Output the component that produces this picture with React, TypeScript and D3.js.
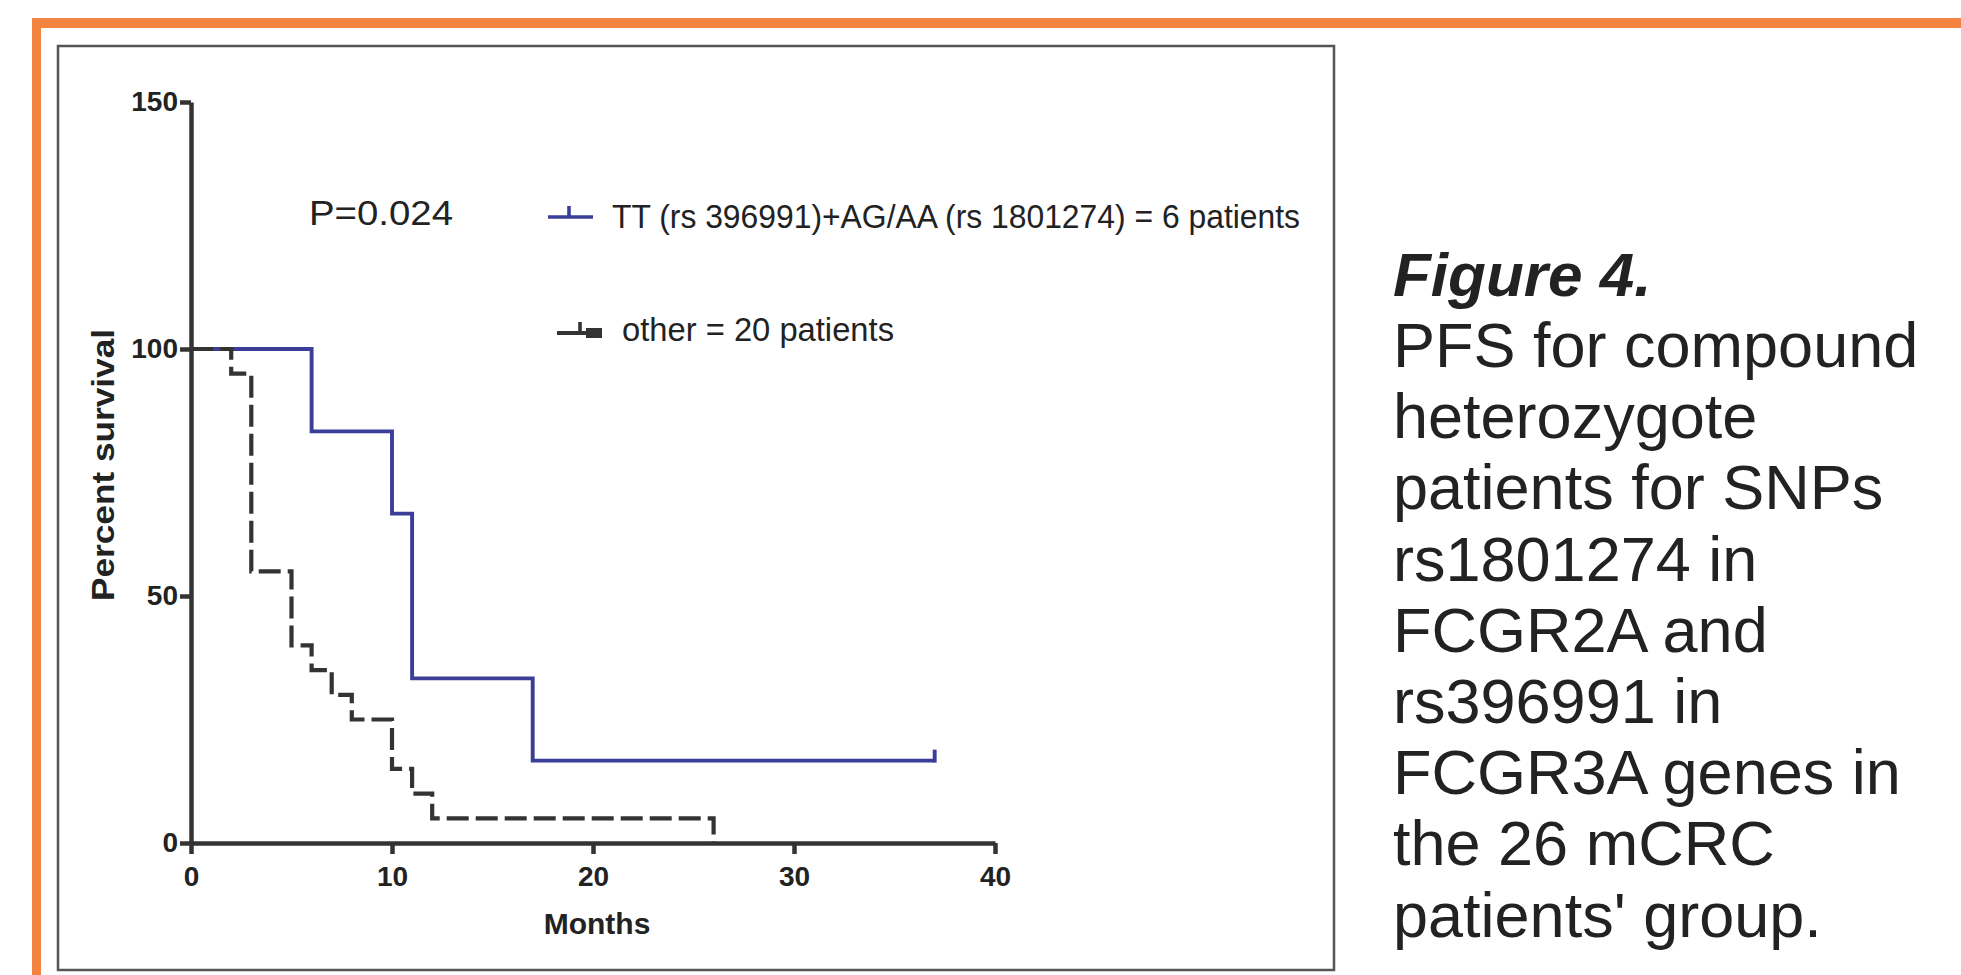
import React, { useEffect, useRef } from "react";
import * as d3 from "d3";

// Kaplan-Meier steps (months, percent survival)
const blueMonths = [0, 6, 10, 11, 17, 37];
const blueSurvival = [100, 83.33, 66.67, 33.33, 16.67, 16.67];
const otherMonths = [0, 2, 3, 5, 6, 7, 8, 10, 11, 12, 26];
const otherSurvival = [100, 95, 55, 40, 35, 30, 25, 15, 10, 5, 0];
const blueCensored = [37];

const xTicks = [0, 10, 20, 30, 40];
const yTicks = [0, 50, 100, 150];

const legendLabels = ["TT (rs 396991)+AG/AA (rs 1801274) = 6 patients", "other = 20 patients"];
const pValue = "P=0.024";
const captionTitle = "Figure 4.";
const captionLines = [
    "PFS for compound",
    "heterozygote",
    "patients for SNPs",
    "rs1801274 in",
    "FCGR2A and",
    "rs396991 in",
    "FCGR3A genes in",
    "the 26 mCRC",
    "patients' group.",
];

const BLUE = "#3a3e99";
const DARK = "#333333";

export default function App() {
    const ref = useRef<SVGSVGElement>(null);

    useEffect(() => {
        const svg = d3.select(ref.current);
        svg.selectAll("*").remove();

        // orange page frame + figure box
        svg.append("rect").attr("x", 32).attr("y", 18).attr("width", 1940).attr("height", 10).attr("fill", "#f2843f");
        svg.append("rect").attr("x", 32).attr("y", 18).attr("width", 9).attr("height", 970).attr("fill", "#f2843f");
        svg.append("rect").attr("x", 58).attr("y", 46).attr("width", 1276).attr("height", 924)
            .attr("fill", "none").attr("stroke", "#555").attr("stroke-width", 2.5);

        const x = d3.scaleLinear().domain([0, 40]).range([191, 995]);
        const y = d3.scaleLinear().domain([0, 150]).range([843, 102]);

        const font = "'Liberation Sans', Arial, sans-serif";

        // axes
        const xAxis = svg.append("g").attr("transform", `translate(0, ${y(0)})`)
            .call(d3.axisBottom(x).tickValues(xTicks).tickSize(11).tickSizeOuter(0).tickPadding(12));
        const yAxis = svg.append("g").attr("transform", `translate(${x(0)}, 0)`)
            .call(d3.axisLeft(y).tickValues(yTicks).tickSize(11).tickSizeOuter(0).tickPadding(2));
        [xAxis, yAxis].forEach(ax => {
            ax.select(".domain").attr("stroke", DARK).attr("stroke-width", 4.5);
            ax.selectAll(".tick line").attr("stroke", DARK).attr("stroke-width", 4.5);
            ax.selectAll(".tick text").attr("fill", "#222").style("font-family", font)
                .style("font-size", "28px").style("font-weight", "bold");
        });

        // axis titles
        svg.append("text").attr("x", 597).attr("y", 934).attr("text-anchor", "middle")
            .style("font-family", font).style("font-size", "30px").style("font-weight", "bold").attr("fill", "#222")
            .text("Months");
        svg.append("text").attr("transform", "translate(114, 465) rotate(-90)").attr("text-anchor", "middle")
            .style("font-family", font).style("font-size", "32px").style("font-weight", "bold").attr("fill", "#222")
            .attr("textLength", 272).attr("lengthAdjust", "spacingAndGlyphs")
            .text("Percent survival");

        const step = d3.line().curve(d3.curveStepAfter);

        // blue group
        const bluePts = blueMonths.map((m, i) => [x(m), y(blueSurvival[i])] as [number, number]);
        svg.append("path").attr("d", step(bluePts))
            .attr("fill", "none").attr("stroke", BLUE).attr("stroke-width", 3.9);
        const lastBlue = y(blueSurvival[blueSurvival.length - 1]);
        svg.selectAll(".censor").data(blueCensored).join("line").attr("class", "censor")
            .attr("x1", d => x(d)).attr("x2", d => x(d))
            .attr("y1", lastBlue + 1.9).attr("y2", lastBlue - 11)
            .attr("stroke", BLUE).attr("stroke-width", 3.9);

        // other group, dashed
        const otherPts = otherMonths.map((m, i) => [x(m), y(otherSurvival[i])] as [number, number]);
        svg.append("path").attr("d", step(otherPts))
            .attr("fill", "none").attr("stroke", DARK).attr("stroke-width", 4.2)
            .attr("stroke-dasharray", "22 7");

        // P value
        svg.append("text").attr("x", 309).attr("y", 225)
            .style("font-family", font).style("font-size", "35px").attr("fill", "#222")
            .attr("textLength", 144).attr("lengthAdjust", "spacingAndGlyphs")
            .text(pValue);

        // legend
        const narrow = "'Liberation Sans Narrow', 'Liberation Sans', sans-serif";
        svg.append("line").attr("x1", 548).attr("x2", 593).attr("y1", 217).attr("y2", 217)
            .attr("stroke", BLUE).attr("stroke-width", 3.6);
        svg.append("line").attr("x1", 569).attr("x2", 569).attr("y1", 217).attr("y2", 206)
            .attr("stroke", BLUE).attr("stroke-width", 3.6);
        svg.append("line").attr("x1", 557).attr("x2", 590).attr("y1", 333).attr("y2", 333)
            .attr("stroke", DARK).attr("stroke-width", 4);
        svg.append("line").attr("x1", 580).attr("x2", 580).attr("y1", 333).attr("y2", 322)
            .attr("stroke", DARK).attr("stroke-width", 3.6);
        svg.append("rect").attr("x", 586).attr("y", 328).attr("width", 16).attr("height", 10).attr("fill", DARK);

        svg.append("text").attr("x", 612).attr("y", 228)
            .style("font-family", narrow).style("font-size", "33px").attr("fill", "#222")
            .attr("textLength", 688).attr("lengthAdjust", "spacingAndGlyphs")
            .text(legendLabels[0]);
        svg.append("text").attr("x", 622).attr("y", 341)
            .style("font-family", narrow).style("font-size", "33px").attr("fill", "#222")
            .attr("textLength", 272).attr("lengthAdjust", "spacingAndGlyphs")
            .text(legendLabels[1]);

        // caption on the right
        svg.append("text").attr("x", 1393).attr("y", 296)
            .style("font-family", font).style("font-size", "62px").style("font-weight", "bold").style("font-style", "italic")
            .attr("fill", "#222").text(captionTitle);
        svg.selectAll(".cap").data(captionLines).join("text").attr("class", "cap")
            .attr("x", 1393).attr("y", (d, i) => 367 + i * 71.2)
            .style("font-family", font).style("font-size", "63px").attr("fill", "#222")
            .text(d => d);
    }, []);

    return (
        <svg ref={ref} width={1961} height={975} style={{ position: "absolute", left: 0, top: 0, background: "#fff" }} />
    );
}
